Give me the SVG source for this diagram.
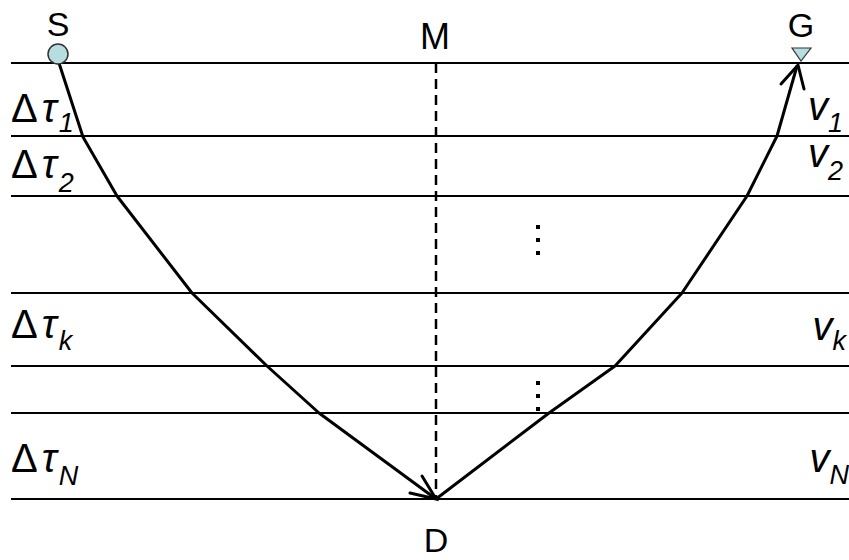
<svg xmlns="http://www.w3.org/2000/svg" width="849" height="560" viewBox="0 0 849 560">
<style>
.layer{stroke:#000;stroke-width:2}
.ray{fill:none;stroke:#000;stroke-width:3;stroke-linejoin:round}
.head{fill:none;stroke:#000;stroke-width:3;stroke-linecap:round}
.lbl{font-family:"Liberation Sans",Arial,sans-serif;font-size:34px;fill:#000}
.big{font-size:40px}
.it{font-style:italic}
.sub{font-size:27px;font-style:italic}
.dot{fill:#000}
</style>
<rect width="849" height="560" fill="#fff"/>
<g id="layers">
<line class="layer" x1="11" y1="63" x2="849" y2="63"/>
<line class="layer" x1="11" y1="136" x2="849" y2="136"/>
<line class="layer" x1="11" y1="196" x2="849" y2="196"/>
<line class="layer" x1="11" y1="293" x2="849" y2="293"/>
<line class="layer" x1="11" y1="366" x2="849" y2="366"/>
<line class="layer" x1="11" y1="413" x2="849" y2="413"/>
<line class="layer" x1="11" y1="499" x2="849" y2="499"/>
</g>
<g id="connectors">
<line x1="436" y1="63" x2="436" y2="499" stroke="#000" stroke-width="2.5" stroke-dasharray="10,6"/>
<polyline class="ray" points="59,63 83,137 117,196 192,293 267,366 319,413 436,499"/>
<polyline class="head" points="410,493 436,499 422,476"/>
<polyline class="ray" points="436,499 549,413 615,366 682,293 747,196 777,136 797,66"/>
<polyline class="head" points="781,84 798,65 804,89"/>
</g>
<g id="S">
<circle cx="58" cy="54" r="10" fill="#b7dde0" stroke="#333" stroke-width="1.5"/>
<text class="lbl" x="58" y="36" text-anchor="middle">S</text>
</g>
<g id="G">
<polygon points="792,48 811,48 801,61" fill="#b7dde0" stroke="#333" stroke-width="1.2"/>
<text class="lbl" x="801" y="37" text-anchor="middle">G</text>
</g>
<g id="M"><text class="lbl" x="435" y="49" text-anchor="middle" style="font-size:36px">M</text></g>
<g id="D"><text class="lbl" x="436" y="552" text-anchor="middle">D</text></g>
<g id="dots">
<rect class="dot" x="536" y="225" width="4" height="4"/>
<rect class="dot" x="536" y="238" width="4" height="4"/>
<rect class="dot" x="536" y="251" width="4" height="4"/>
<rect class="dot" x="536" y="381" width="4" height="4"/>
<rect class="dot" x="536" y="394" width="4" height="4"/>
<rect class="dot" x="536" y="407" width="4" height="4"/>
</g>
<g id="tau-labels">
<text class="lbl big" x="11" y="122">Δ<tspan class="it" dx="4">τ</tspan><tspan class="sub" dx="2" dy="10">1</tspan></text>
<text class="lbl big" x="11" y="178">Δ<tspan class="it" dx="4">τ</tspan><tspan class="sub" dx="2" dy="14">2</tspan></text>
<text class="lbl big" x="11" y="338">Δ<tspan class="it" dx="4">τ</tspan><tspan class="sub" dx="2" dy="12">k</tspan></text>
<text class="lbl big" x="11" y="472">Δ<tspan class="it" dx="4">τ</tspan><tspan class="sub" dx="2" dy="13">N</tspan></text>
</g>
<g id="v-labels">
<text class="lbl big" x="843" y="120" text-anchor="end"><tspan class="it">v</tspan><tspan class="sub" dy="12">1</tspan></text>
<text class="lbl big" x="843" y="167" text-anchor="end"><tspan class="it">v</tspan><tspan class="sub" dy="13">2</tspan></text>
<text class="lbl big" x="846" y="340" text-anchor="end"><tspan class="it">v</tspan><tspan class="sub" dy="10">k</tspan></text>
<text class="lbl big" x="849" y="472" text-anchor="end"><tspan class="it">v</tspan><tspan class="sub" dy="12">N</tspan></text>
</g>
</svg>
